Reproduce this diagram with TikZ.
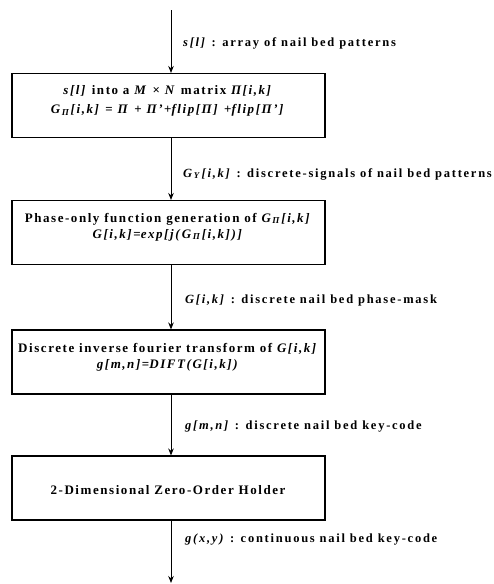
\documentclass[tikz,border=0pt]{standalone}
\usepackage{fontspec}
\setmainfont{Liberation Serif}[LetterSpace=12]
\newfontfamily\lblfont{Liberation Serif}[LetterSpace=14]
\usetikzlibrary{arrows.meta}
\tikzset{
  blk/.style={draw, line width=1.1pt, minimum width=313pt, minimum height=64pt, inner sep=0pt},
  flow/.style={line width=0.9pt, -{Stealth[length=7pt,width=5.5pt]}},
  lbl/.style={anchor=west, inner sep=0pt, font=\lblfont\bfseries\fontsize{12.5}{14}\selectfont},
  txt/.style={inner sep=0pt, font=\bfseries\fontsize{13}{15}\selectfont}
}
\newcommand{\Gp}{\textit{G}\textsubscript{\textit{Π}}}
\begin{document}
\begin{tikzpicture}[x=1pt,y=-1pt]
\useasboundingbox (0,0) rectangle (493,584);
\coordinate (start) at (171,10);
\coordinate (finish) at (171,583);
\node[blk] (b1) at (168.5,105.5) {};
\node[blk] (b2) at (168.5,232.5) {};
\node[blk] (b3) at (168.5,362) {};
\node[blk] (b4) at (168.5,488) {};
\node[txt] (t1a) at (168,91) {\textit{s[l]} into a \textit{M} × \textit{N} matrix \textit{Π[i,k]}};
\node[txt] (t1b) at (168,110) {\Gp\textit{[i,k]} = \textit{Π} + \textit{Π'}+\textit{flip[Π]} +\textit{flip[Π']}};
\node[txt] (t2a) at (168,219) {Phase-only function generation of \Gp\textit{[i,k]}};
\node[txt] (t2b) at (168,235) {\textit{G[i,k]}=\textit{exp[j(}\Gp\textit{[i,k])]}};
\node[txt] (t3a) at (168,349) {Discrete inverse fourier transform of \textit{G[i,k]}};
\node[txt] (t3b) at (168,365) {\textit{g[m,n]}=\textit{DIFT(G[i,k])}};
\node[txt] (t4) at (168,490) {2-Dimensional Zero-Order Holder};
\draw[flow] (start) -- (start |- b1.north);
\draw[flow] (b1.south -| start) -- (b2.north -| start);
\draw[flow] (b2.south -| start) -- (b3.north -| start);
\draw[flow] (b3.south -| start) -- (b4.north -| start);
\draw[flow] (b4.south -| start) -- (finish);
\node[lbl] (l1) at (183,43) {\textit{s[l]} : array of nail bed patterns};
\node[lbl] (l2) at (183,174) {\textit{G}\textsubscript{\textit{Y}}\textit{[i,k]} : discrete-signals of nail bed patterns};
\node[lbl] (l3) at (185,300) {\textit{G[i,k]} : discrete nail bed phase-mask};
\node[lbl] (l4) at (185,427) {\textit{g[m,n]} : discrete nail bed key-code};
\node[lbl] (l5) at (185,540) {\textit{g(x,y)} : continuous nail bed key-code};
\end{tikzpicture}
\end{document}
